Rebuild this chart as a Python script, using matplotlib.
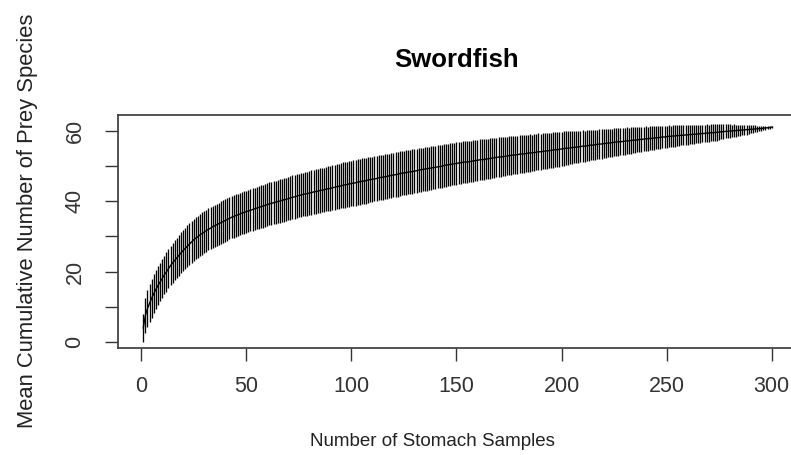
import numpy as np
import matplotlib

matplotlib.use("Agg")
import matplotlib.pyplot as plt

# mean cumulative number of prey species per number of stomachs sampled (1..300)
mean_species = [
    4.0, 7.5, 9.5, 11.0, 12.4, 13.7, 14.9, 16.0, 17.0, 18.0,
    19.0, 19.9, 20.8, 21.7, 22.5, 23.2, 23.9, 24.6, 25.3, 26.0,
    26.6, 27.2, 27.8, 28.4, 29.0, 29.5, 29.9, 30.4, 30.8, 31.2,
    31.6, 32.0, 32.3, 32.7, 33.0, 33.3, 33.6, 33.9, 34.2, 34.5,
    34.8, 35.1, 35.4, 35.6, 35.9, 36.1, 36.3, 36.6, 36.8, 37.0,
    37.2, 37.4, 37.6, 37.8, 38.0, 38.2, 38.4, 38.6, 38.8, 39.0,
    39.2, 39.4, 39.5, 39.7, 39.9, 40.0, 40.2, 40.4, 40.5, 40.7,
    40.9, 41.1, 41.2, 41.4, 41.6,
    41.7, 41.9, 42.0, 42.1, 42.3, 42.4, 42.6, 42.7, 42.8, 43.0,
    43.1, 43.2, 43.4, 43.5, 43.6, 43.8, 43.9, 44.1, 44.2, 44.3,
    44.5, 44.6, 44.7, 44.9, 45.0,
    45.1, 45.2, 45.4, 45.5, 45.6, 45.7, 45.8, 46.0, 46.1, 46.2,
    46.3, 46.4, 46.6, 46.7, 46.8, 46.9, 47.0, 47.2, 47.3, 47.4,
    47.5, 47.6, 47.8, 47.9, 48.0,
    48.1, 48.2, 48.3, 48.4, 48.5, 48.6, 48.8, 48.9, 49.0, 49.1,
    49.2, 49.3, 49.4, 49.5, 49.6, 49.7, 49.8, 49.9, 50.1, 50.2,
    50.3, 50.4, 50.5, 50.6, 50.7,
    50.8, 50.9, 51.0, 51.1, 51.1, 51.2, 51.3, 51.4, 51.5, 51.6,
    51.7, 51.8, 51.8, 51.9, 52.0, 52.1, 52.2, 52.3, 52.4, 52.5,
    52.5, 52.6, 52.7, 52.8, 52.9,
    53.0, 53.1, 53.1, 53.2, 53.3, 53.4, 53.4, 53.5, 53.6, 53.7,
    53.7, 53.8, 53.9, 54.0, 54.0, 54.1, 54.2, 54.3, 54.3, 54.4,
    54.5, 54.6, 54.6, 54.7, 54.8,
    54.9, 55.0, 55.0, 55.1, 55.2, 55.3, 55.3, 55.4, 55.5, 55.6,
    55.6, 55.7, 55.8, 55.9, 55.9, 56.0, 56.1, 56.2, 56.2, 56.3,
    56.4, 56.5, 56.5, 56.6, 56.7,
    56.8, 56.8, 56.9, 56.9, 57.0, 57.1, 57.1, 57.2, 57.3, 57.3,
    57.4, 57.5, 57.5, 57.6, 57.7, 57.7, 57.8, 57.8, 57.9, 58.0,
    58.0, 58.1, 58.2, 58.2, 58.3,
    58.4, 58.4, 58.5, 58.5, 58.6, 58.6, 58.7, 58.7, 58.8, 58.8,
    58.9, 58.9, 59.0, 59.0, 59.1, 59.1, 59.2, 59.2, 59.3, 59.3,
    59.4, 59.4, 59.5, 59.5, 59.6,
    59.7, 59.7, 59.8, 59.8, 59.9, 59.9, 60.0, 60.0, 60.1, 60.1,
    60.2, 60.2, 60.3, 60.3, 60.4, 60.4, 60.5, 60.5, 60.6, 60.6,
    60.7, 60.8, 60.8, 60.9, 61.0,
]

# half-length of each error bar (sd)
sd_species = [
    4.0, 5.0, 5.3, 5.4, 5.5, 5.5, 5.5, 5.5, 5.5, 5.5,
    5.5, 5.6, 5.6, 5.6, 5.7, 5.7, 5.7, 5.8, 5.8, 5.8,
    5.9, 5.9, 5.9, 6.0, 6.0, 6.0, 6.0, 6.0, 6.0, 6.0,
    6.0, 6.0, 6.0, 6.0, 6.0, 6.0, 6.0, 6.0, 6.0, 6.0,
    6.0, 6.0, 6.0, 6.0, 6.0, 6.0, 6.0, 6.0, 6.0, 6.0,
    6.0, 6.0, 6.0, 6.0, 6.0, 6.1, 6.1, 6.1, 6.1, 6.1,
    6.1, 6.1, 6.1, 6.1, 6.1, 6.2, 6.2, 6.2, 6.2, 6.2,
    6.2, 6.2, 6.2, 6.2, 6.2,
    6.2, 6.2, 6.2, 6.2, 6.2, 6.3, 6.3, 6.3, 6.3, 6.3,
    6.3, 6.3, 6.3, 6.4, 6.4, 6.4, 6.4, 6.4, 6.4, 6.4,
    6.5, 6.5, 6.5, 6.5, 6.5,
    6.5, 6.5, 6.5, 6.5, 6.5, 6.5, 6.5, 6.5, 6.4, 6.4,
    6.4, 6.4, 6.4, 6.4, 6.4, 6.4, 6.4, 6.3, 6.3, 6.3,
    6.3, 6.3, 6.3, 6.3, 6.3,
    6.3, 6.3, 6.3, 6.3, 6.3, 6.2, 6.2, 6.2, 6.2, 6.2,
    6.2, 6.2, 6.2, 6.1, 6.1, 6.1, 6.1, 6.1, 6.1, 6.1,
    6.0, 6.0, 6.0, 6.0, 6.0,
    6.0, 6.0, 6.0, 5.9, 5.9, 5.9, 5.9, 5.9, 5.8, 5.8,
    5.8, 5.8, 5.8, 5.7, 5.7, 5.7, 5.7, 5.6, 5.6, 5.6,
    5.6, 5.5, 5.5, 5.5, 5.5,
    5.5, 5.5, 5.4, 5.4, 5.4, 5.4, 5.3, 5.3, 5.3, 5.3,
    5.2, 5.2, 5.2, 5.2, 5.1, 5.1, 5.1, 5.1, 5.0, 5.0,
    5.0, 5.0, 4.9, 4.9, 4.9,
    4.9, 4.8, 4.8, 4.7, 4.7, 4.6, 4.6, 4.5, 4.5, 4.5,
    4.4, 4.4, 4.4, 4.3, 4.3, 4.3, 4.2, 4.2, 4.2, 4.1,
    4.1, 4.1, 4.0, 4.0, 4.0,
    4.0, 3.9, 3.9, 3.8, 3.8, 3.8, 3.7, 3.7, 3.7, 3.6,
    3.6, 3.6, 3.5, 3.5, 3.5, 3.4, 3.4, 3.4, 3.3, 3.3,
    3.3, 3.2, 3.2, 3.1, 3.1,
    3.1, 3.0, 3.0, 3.0, 2.9, 2.9, 2.9, 2.8, 2.8, 2.8,
    2.7, 2.7, 2.7, 2.6, 2.6, 2.6, 2.5, 2.5, 2.5, 2.4,
    2.4, 2.4, 2.4, 2.3, 2.3,
    2.2, 2.1, 2.0, 2.0, 1.9, 1.8, 1.8, 1.7, 1.6, 1.6,
    1.5, 1.4, 1.4, 1.3, 1.2, 1.1, 1.0, 0.9, 0.8, 0.7,
    0.6, 0.5, 0.4, 0.3, 0.2,
]

x_ticks = [0, 50, 100, 150, 200, 250, 300]
y_ticks = [0, 10, 20, 30, 40, 50, 60]
y_labels = ["0", "", "20", "", "40", "", "60"]

plt.rcParams["font.family"] = ["Liberation Sans", "DejaVu Sans"]

mean = np.array(mean_species)
sd = np.array(sd_species)
n = np.arange(1, len(mean) + 1)

fig = plt.figure(figsize=(7.91, 4.55), dpi=100)
ax = fig.add_axes([0.1492, 0.2352, 0.8584, 0.5121])

# one vertical error bar per sample size, mean drawn through them
ax.vlines(n, np.clip(mean - sd, 0, None), mean + sd, color="black", lw=0.95)
ax.plot(n, mean, color="black", lw=1.0)

ax.set_xlim(-11, 312)
ax.set_ylim(-1.7, 64.45)
ax.set_xticks(x_ticks)
ax.set_yticks(y_ticks)
ax.set_yticklabels(y_labels, rotation=90, va="center")
ax.tick_params(axis="both", direction="out", length=9.5, width=1.0, color="#333",
               labelsize=15.5, labelcolor="#333")
ax.tick_params(axis="x", pad=11)
ax.tick_params(axis="y", pad=14)
for s in ax.spines.values():
    s.set_color("#444")
    s.set_linewidth(1.3)

ax.set_xlabel("Number of Stomach Samples", fontsize=13.5, color="#222")
ax.xaxis.set_label_coords(0.4625, -0.365)
ax.set_ylabel("Mean Cumulative Number of Prey Species", fontsize=15.8, color="#222")
ax.yaxis.set_label_coords(-0.118, 0.545)
fig.text(0.577, 0.868, "Swordfish", fontsize=18.5, fontweight="bold",
         ha="center", va="center")

fig.savefig("out.png", dpi=100)
